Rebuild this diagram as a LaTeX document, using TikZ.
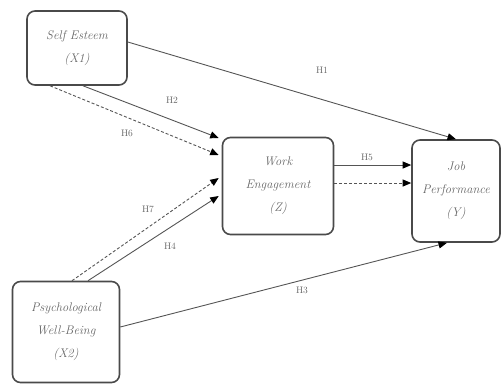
\documentclass[tikz,border=0pt]{standalone}
\usepackage{tikz}
\usetikzlibrary{arrows.meta,positioning}
\definecolor{boxgray}{HTML}{4A4A4A}
\definecolor{linegray}{HTML}{555555}
\definecolor{txtgray}{HTML}{666666}

\begin{document}
\begin{tikzpicture}[x=1pt,y=-1pt,>={Triangle[length=8.5pt,width=7pt,black]},
  var/.style={draw=boxgray,line width=1.6pt,rounded corners=8pt,align=center,
    inner sep=0pt,text=txtgray,font=\fontsize{12.5}{23}\selectfont\itshape},
  path/.style={->,draw=linegray,line width=0.9pt},
  mpath/.style={path,dashed,dash pattern=on 3pt off 2pt},
  lbl/.style={text=txtgray,font=\fontsize{9.5}{11}\selectfont,inner sep=1pt}]
  \useasboundingbox (0,0) rectangle (502,385);
  % variables
  \node[var,minimum width=100pt,minimum height=74pt] (se) at (77,48) {Self Esteem\\(X1)};
  \node[var,minimum width=111pt,minimum height=97pt] (we) at (278,186) {Work\\Engagement\\(Z)};
  \node[var,minimum width=88pt,minimum height=102pt] (jp) at (456,191) {Job\\Performance\\(Y)};
  \node[var,minimum width=107pt,minimum height=101pt] (pwb) at (66,332) {Psychological\\Well-Being\\(X2)};
  % direct paths
  \draw[path] ([yshift=6pt]se.east) -- (jp.north);
  \draw[path] ([xshift=6pt]se.south) -- ([xshift=-3pt,yshift=48pt]we.west);
  \draw[path] ([xshift=22pt]pwb.north) -- ([xshift=-3pt,yshift=-10pt]we.west);
  \draw[path] ([yshift=5pt]pwb.east) -- ([xshift=-9pt]jp.south);
  \draw[path] ([yshift=21pt]we.east) -- ([yshift=26pt]jp.west);
  % mediated paths
  \draw[mpath] ([xshift=-27pt]se.south) -- ([xshift=-3pt,yshift=31pt]we.west);
  \draw[mpath] ([xshift=6pt]pwb.north) -- ([xshift=-3pt,yshift=8pt]we.west);
  \draw[mpath] ([yshift=3pt]we.east) -- ([yshift=8pt]jp.west);
  % labels
  \node[lbl] (h1) at (322,70) {H1};
  \node[lbl] (h2) at (172,100) {H2};
  \node[lbl] (h6) at (127,133) {H6};
  \node[lbl] (h7) at (148,209) {H7};
  \node[lbl] (h4) at (170,246) {H4};
  \node[lbl] (h3) at (302,290) {H3};
  \node[lbl] (h5) at (367,157) {H5};
\end{tikzpicture}
\end{document}
